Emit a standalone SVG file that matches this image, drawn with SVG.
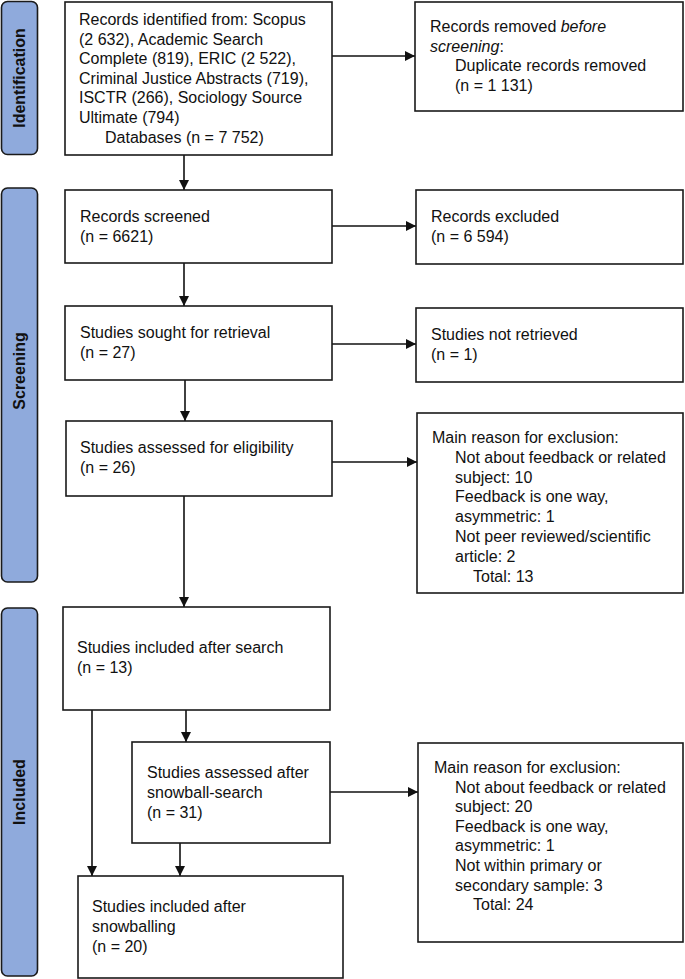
<svg xmlns="http://www.w3.org/2000/svg" width="685" height="979" viewBox="0 0 685 979">
<style>
.box{fill:#fff;stroke:#1a1a1a;stroke-width:1.6}
.side{fill:#8faadc;stroke:#1a1a1a;stroke-width:1.6}
.t{font-family:"Liberation Sans",Arial,sans-serif;font-size:16px;fill:#111}
.s{font-family:"Liberation Sans",Arial,sans-serif;font-size:16px;font-weight:bold;fill:#111;text-anchor:middle}
.c{fill:none;stroke:#111;stroke-width:1.6}
</style>
<defs>
<marker id="ah" markerUnits="userSpaceOnUse" markerWidth="12" markerHeight="12" refX="10" refY="5" orient="auto">
<path d="M0,0 L10,5 L0,10 Z" fill="#111"/>
</marker>
</defs>
<rect width="685" height="979" fill="#fff"/>
<g id="side-identification">
<rect class="side" x="1.5" y="1.5" width="36" height="153" rx="6"/>
<text class="s" transform="translate(25,78) rotate(-90)">Identification</text>
</g>
<g id="side-screening">
<rect class="side" x="1.5" y="188" width="36" height="394" rx="6"/>
<text class="s" transform="translate(25,371) rotate(-90)">Screening</text>
</g>
<g id="side-included">
<rect class="side" x="1.5" y="608" width="36" height="368" rx="6"/>
<text class="s" transform="translate(25,792) rotate(-90)">Included</text>
</g>
<g id="connectors">
<line class="c" x1="332" y1="56" x2="415" y2="56" marker-end="url(#ah)"/>
<line class="c" x1="184" y1="155" x2="184" y2="190" marker-end="url(#ah)"/>
<line class="c" x1="332" y1="226" x2="416" y2="226" marker-end="url(#ah)"/>
<line class="c" x1="184" y1="263" x2="184" y2="306" marker-end="url(#ah)"/>
<line class="c" x1="332" y1="344" x2="416" y2="344" marker-end="url(#ah)"/>
<line class="c" x1="185" y1="380" x2="185" y2="421" marker-end="url(#ah)"/>
<line class="c" x1="332" y1="462" x2="417" y2="462" marker-end="url(#ah)"/>
<line class="c" x1="184" y1="496" x2="184" y2="607" marker-end="url(#ah)"/>
<line class="c" x1="186" y1="710" x2="186" y2="742" marker-end="url(#ah)"/>
<line class="c" x1="330" y1="792" x2="418" y2="792" marker-end="url(#ah)"/>
<line class="c" x1="92" y1="710" x2="92" y2="876" marker-end="url(#ah)"/>
<line class="c" x1="180" y1="843" x2="180" y2="876" marker-end="url(#ah)"/>
</g>
<g id="identified">
<rect class="box" x="65" y="2" width="267" height="153"/>
<text class="t" x="79" y="25">Records identified from: Scopus</text>
<text class="t" x="79" y="44.6">(2 632), Academic Search</text>
<text class="t" x="79" y="64.2">Complete (819), ERIC (2 522),</text>
<text class="t" x="79" y="83.8">Criminal Justice Abstracts (719),</text>
<text class="t" x="79" y="103.4">ISCTR (266), Sociology Source</text>
<text class="t" x="79" y="123">Ultimate (794)</text>
<text class="t" x="105" y="142.6">Databases (n = 7 752)</text>
</g>
<g id="removed">
<rect class="box" x="415" y="2" width="268" height="109"/>
<text class="t" x="430" y="32">Records removed <tspan font-style="italic">before</tspan></text>
<text class="t" x="430" y="51.6"><tspan font-style="italic">screening</tspan>:</text>
<text class="t" x="455" y="71.2">Duplicate records removed</text>
<text class="t" x="455" y="90.8">(n = 1 131)</text>
</g>
<g id="screened">
<rect class="box" x="65" y="190" width="267" height="73"/>
<text class="t" x="80" y="222">Records screened</text>
<text class="t" x="80" y="242">(n = 6621)</text>
</g>
<g id="excluded">
<rect class="box" x="416" y="190" width="267" height="74"/>
<text class="t" x="431" y="222">Records excluded</text>
<text class="t" x="431" y="242">(n = 6 594)</text>
</g>
<g id="sought">
<rect class="box" x="65" y="306" width="267" height="74"/>
<text class="t" x="80" y="338">Studies sought for retrieval</text>
<text class="t" x="80" y="358">(n = 27)</text>
</g>
<g id="not-retrieved">
<rect class="box" x="416" y="308" width="267" height="74"/>
<text class="t" x="431" y="340">Studies not retrieved</text>
<text class="t" x="431" y="360">(n = 1)</text>
</g>
<g id="assessed">
<rect class="box" x="66" y="421" width="266" height="75"/>
<text class="t" x="80" y="453">Studies assessed for eligibility</text>
<text class="t" x="80" y="473">(n = 26)</text>
</g>
<g id="excl-reasons-1">
<rect class="box" x="417" y="413" width="266" height="180"/>
<text class="t" x="432" y="443">Main reason for exclusion:</text>
<text class="t" x="455" y="462.8">Not about feedback or related</text>
<text class="t" x="455" y="482.6">subject: 10</text>
<text class="t" x="455" y="502.4">Feedback is one way,</text>
<text class="t" x="455" y="522.2">asymmetric: 1</text>
<text class="t" x="455" y="542">Not peer reviewed/scientific</text>
<text class="t" x="455" y="561.8">article: 2</text>
<text class="t" x="473" y="581.6">Total: 13</text>
</g>
<g id="included-search">
<rect class="box" x="63" y="607" width="267" height="103"/>
<text class="t" x="77" y="653">Studies included after search</text>
<text class="t" x="77" y="673">(n = 13)</text>
</g>
<g id="snowball">
<rect class="box" x="132" y="742" width="198" height="101"/>
<text class="t" x="147" y="778">Studies assessed after</text>
<text class="t" x="147" y="798">snowball-search</text>
<text class="t" x="147" y="818">(n = 31)</text>
</g>
<g id="excl-reasons-2">
<rect class="box" x="418" y="743" width="265" height="199"/>
<text class="t" x="434" y="773">Main reason for exclusion:</text>
<text class="t" x="455" y="792.6">Not about feedback or related</text>
<text class="t" x="455" y="812.2">subject: 20</text>
<text class="t" x="455" y="831.8">Feedback is one way,</text>
<text class="t" x="455" y="851.4">asymmetric: 1</text>
<text class="t" x="455" y="871">Not within primary or</text>
<text class="t" x="455" y="890.6">secondary sample: 3</text>
<text class="t" x="473" y="910.2">Total: 24</text>
</g>
<g id="final">
<rect class="box" x="78" y="876" width="265" height="102"/>
<text class="t" x="92" y="912">Studies included after</text>
<text class="t" x="92" y="932">snowballing</text>
<text class="t" x="92" y="952">(n = 20)</text>
</g>
</svg>
